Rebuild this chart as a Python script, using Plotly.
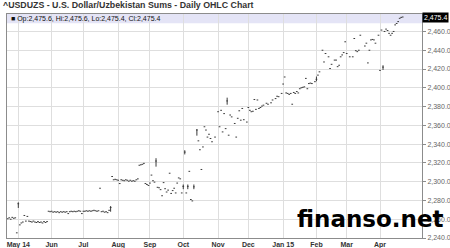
import plotly.graph_objects as go

# ---------------- data ----------------
title_text = "^USDUZS - U.S. Dollar/Uzbekistan Sums - Daily OHLC Chart"
last_ohlc = [2475.6, 2475.6, 2475.4, 2475.4]   # Op, Hi, Lo, Cl

dates = [
    "2014-04-22", "2014-04-23", "2014-04-24", "2014-04-25", "2014-04-28", "2014-04-29", "2014-04-30",
    "2014-05-01", "2014-05-02", "2014-05-05", "2014-05-06", "2014-05-07", "2014-05-08", "2014-05-09",
    "2014-05-12", "2014-05-13", "2014-05-14", "2014-05-15", "2014-05-16", "2014-05-19", "2014-05-20",
    "2014-05-21", "2014-05-22", "2014-05-23", "2014-05-26", "2014-05-27", "2014-05-28", "2014-05-29",
    "2014-05-30",
    "2014-06-02", "2014-06-03", "2014-06-04", "2014-06-05", "2014-06-06", "2014-06-09", "2014-06-10",
    "2014-06-11", "2014-06-12", "2014-06-13", "2014-06-16", "2014-06-17", "2014-06-18", "2014-06-19",
    "2014-06-20", "2014-06-23", "2014-06-24", "2014-06-25", "2014-06-26", "2014-06-27", "2014-06-30",
    "2014-07-01", "2014-07-02", "2014-07-03", "2014-07-04", "2014-07-07", "2014-07-08", "2014-07-09",
    "2014-07-10", "2014-07-11", "2014-07-14", "2014-07-15", "2014-07-16", "2014-07-17", "2014-07-18",
    "2014-07-21", "2014-07-22", "2014-07-23", "2014-07-24", "2014-07-25", "2014-07-28", "2014-07-29",
    "2014-07-30", "2014-07-31",
    "2014-08-01", "2014-08-04", "2014-08-05", "2014-08-06", "2014-08-07", "2014-08-08", "2014-08-11",
    "2014-08-12", "2014-08-13", "2014-08-14", "2014-08-15", "2014-08-18", "2014-08-19", "2014-08-20",
    "2014-08-21", "2014-08-22", "2014-08-25", "2014-08-26", "2014-08-27", "2014-08-28", "2014-08-29",
    "2014-09-01", "2014-09-02", "2014-09-03", "2014-09-04", "2014-09-05", "2014-09-08", "2014-09-09",
    "2014-09-10", "2014-09-11", "2014-09-12", "2014-09-15", "2014-09-16", "2014-09-17", "2014-09-18",
    "2014-09-19", "2014-09-22", "2014-09-23", "2014-09-24", "2014-09-25", "2014-09-26", "2014-09-29",
    "2014-09-30",
    "2014-10-01", "2014-10-02", "2014-10-03", "2014-10-06", "2014-10-07", "2014-10-08", "2014-10-09",
    "2014-10-10", "2014-10-14", "2014-10-15", "2014-10-16", "2014-10-17", "2014-10-20", "2014-10-21",
    "2014-10-22", "2014-10-23", "2014-10-24", "2014-10-27", "2014-10-28", "2014-10-30",
    "2014-11-03", "2014-11-04", "2014-11-05", "2014-11-06", "2014-11-07", "2014-11-10", "2014-11-11",
    "2014-11-12", "2014-11-13", "2014-11-14", "2014-11-18", "2014-11-19", "2014-11-20", "2014-11-21",
    "2014-11-24", "2014-11-25", "2014-11-26", "2014-11-28",
    "2014-12-01", "2014-12-02", "2014-12-03", "2014-12-04", "2014-12-05", "2014-12-08", "2014-12-09",
    "2014-12-10", "2014-12-11", "2014-12-12", "2014-12-15", "2014-12-17", "2014-12-18", "2014-12-22",
    "2014-12-23", "2014-12-25", "2014-12-26", "2014-12-29", "2014-12-31",
    "2015-01-01", "2015-01-02", "2015-01-05", "2015-01-06", "2015-01-07", "2015-01-08", "2015-01-09",
    "2015-01-12", "2015-01-13", "2015-01-14", "2015-01-15", "2015-01-16", "2015-01-19", "2015-01-20",
    "2015-01-21", "2015-01-22", "2015-01-23", "2015-01-26", "2015-01-27", "2015-01-28", "2015-01-30",
    "2015-02-02", "2015-02-03", "2015-02-04", "2015-02-06", "2015-02-09", "2015-02-10", "2015-02-12",
    "2015-02-13", "2015-02-16", "2015-02-18", "2015-02-19", "2015-02-20", "2015-02-23", "2015-02-24",
    "2015-02-25", "2015-02-26", "2015-02-27",
    "2015-03-02", "2015-03-04", "2015-03-06", "2015-03-09", "2015-03-10", "2015-03-11", "2015-03-12",
    "2015-03-13", "2015-03-18", "2015-03-19", "2015-03-20", "2015-03-23", "2015-03-24", "2015-03-25",
    "2015-03-26", "2015-03-27", "2015-03-31",
    "2015-04-01", "2015-04-02", "2015-04-03", "2015-04-06", "2015-04-07", "2015-04-08", "2015-04-09",
    "2015-04-10", "2015-04-13", "2015-04-14", "2015-04-15", "2015-04-16", "2015-04-17", "2015-04-20",
    "2015-04-21", "2015-04-22",
]

closes = [
    2260.5, 2261.5, 2260.0, 2262.0, 2261.0, 2261.5, 2245.5,
    2276.5, 2254.0, 2256.0, 2257.0, 2264.0, 2258.0, 2263.0,
    2258.0, 2257.5, 2257.0, 2258.0, 2257.0, 2256.5, 2257.5,
    2256.5, 2257.0, 2256.0, 2257.5, 2256.5, 2257.5, 2268.5,
    2268.0,
    2268.5, 2267.5, 2268.0, 2267.5, 2268.0, 2267.0, 2268.0,
    2267.5, 2268.0, 2267.5, 2268.0, 2266.0, 2268.0, 2268.5,
    2268.0, 2268.5, 2268.0, 2268.5, 2269.0, 2268.5, 2266.0,
    2268.5, 2268.5, 2269.0, 2268.5, 2269.0, 2268.5, 2269.0,
    2269.5, 2269.0, 2268.5, 2269.0, 2293.0, 2268.0, 2268.5,
    2267.5, 2268.0, 2267.0, 2269.5, 2272.5, 2305.5, 2302.0,
    2302.5, 2302.0,
    2301.5, 2298.0, 2302.0, 2301.5, 2301.0, 2302.0, 2301.5,
    2300.5, 2301.5, 2300.5, 2301.0, 2300.5, 2302.0, 2303.0,
    2317.5, 2318.0, 2318.5, 2319.5, 2298.0, 2297.0, 2296.0,
    2298.5, 2307.0, 2301.0, 2299.5, 2322.0, 2294.0, 2293.5,
    2291.5, 2285.0, 2299.0, 2292.5, 2289.0, 2291.0, 2309.0,
    2287.5, 2290.5, 2293.0, 2288.0, 2298.5, 2304.0, 2303.0,
    2288.0,
    2295.0, 2331.5, 2288.0, 2295.0, 2311.0, 2281.0, 2279.5,
    2294.5, 2355.0, 2343.5, 2334.0, 2313.0, 2337.0, 2358.5,
    2355.0, 2347.5, 2350.5, 2346.0, 2342.5, 2347.5,
    2374.5, 2358.5, 2376.0, 2353.0, 2372.5, 2356.5, 2386.0,
    2349.5, 2371.0, 2369.0, 2362.0, 2347.5, 2367.5, 2375.5,
    2365.5, 2378.0, 2366.0, 2363.5,
    2379.0, 2376.0, 2374.5, 2375.0, 2387.5, 2377.0, 2387.0,
    2378.0, 2379.0, 2380.5, 2381.5, 2383.5, 2382.5, 2384.0,
    2387.0, 2388.5, 2391.0, 2390.5, 2394.0,
    2404.0, 2411.5, 2394.5, 2394.0, 2393.0, 2394.0, 2382.5,
    2395.0, 2394.0, 2396.0, 2394.5, 2399.0, 2400.0, 2400.5,
    2401.0, 2410.0, 2399.0, 2404.5, 2405.0, 2404.5, 2406.5,
    2409.0, 2413.5, 2417.0, 2440.0, 2427.5, 2436.5, 2433.0,
    2420.5, 2425.0, 2429.5, 2429.5, 2422.5, 2424.0, 2433.0,
    2435.0, 2437.5, 2449.0,
    2436.5, 2433.0, 2433.0, 2452.5, 2439.5, 2438.5, 2440.0,
    2456.0, 2444.5, 2447.5, 2426.5, 2440.0, 2451.0, 2451.5,
    2451.0, 2447.5, 2456.0,
    2418.5, 2461.5, 2422.0, 2460.0, 2462.5, 2461.0, 2458.0,
    2456.0, 2458.0, 2460.0, 2467.0, 2468.5, 2470.5, 2474.0,
    2475.0, 2475.4,
]

# days whose high-low range is visibly taller than a dash
range_dates = ["2014-05-01", "2014-07-25", "2014-09-05", "2014-10-01", "2014-10-02",
               "2014-10-06", "2014-10-10", "2014-10-14", "2014-11-11", "2015-02-02",
               "2015-04-03"]
range_lows = [2272.0, 2268.0, 2316.0, 2292.0, 2329.0, 2292.0, 2292.0, 2349.0, 2382.0, 2407.0, 2419.0]
range_highs = [2278.0, 2274.0, 2325.0, 2297.0, 2333.5, 2297.0, 2297.0, 2356.0, 2389.5, 2412.0, 2424.0]

tick_dates = ["2014-05-01", "2014-06-02", "2014-07-01", "2014-08-01", "2014-09-01", "2014-10-01",
              "2014-11-03", "2014-12-01", "2015-01-01", "2015-02-02", "2015-03-02", "2015-04-01"]
tick_labels = ["May 14", "Jun", "Jul", "Aug", "Sep", "Oct", "Nov", "Dec", "Jan 15", "Feb", "Mar", "Apr"]

y_ticks = [2240, 2260, 2280, 2300, 2320, 2340, 2360, 2380, 2400, 2420, 2440, 2460]
y_range = [2240, 2478.6]
x_range = ["2014-04-21 12:45", "2015-05-08 18:00"]

watermark = "finanso.net"

# ---------------- build figure ----------------
rng = {d: (lo, hi) for d, lo, hi in zip(range_dates, range_lows, range_highs)}
err_plus = [rng[d][1] - c if d in rng else 0 for d, c in zip(dates, closes)]
err_minus = [c - rng[d][0] if d in rng else 0 for d, c in zip(dates, closes)]

INK = "#3a3a3a"
FONT = "Liberation Sans, Arial, sans-serif"

fig = go.Figure()
fig.add_trace(go.Scatter(
    x=dates, y=closes, mode="markers",
    marker=dict(symbol="line-ew", size=1.2, color=INK, line=dict(width=1, color=INK)),
    error_y=dict(type="data", symmetric=False, array=err_plus, arrayminus=err_minus,
                 width=0, thickness=1, color=INK),
    showlegend=False, hoverinfo="skip",
))

W, H = 450, 248
ML, MR, MT, MB = 7, 28, 14, 10

fig.update_layout(
    width=W, height=H,
    margin=dict(l=ML, r=MR, t=MT, b=MB, pad=0, autoexpand=False),
    paper_bgcolor="white", plot_bgcolor="white",
    showlegend=False,
    font=dict(family=FONT, size=7, color="#333"),
    xaxis=dict(
        type="date", range=x_range, automargin=False,
        rangebreaks=[dict(bounds=["sat", "mon"])],
        tickmode="array", tickvals=tick_dates, ticktext=tick_labels,
        tickfont=dict(family=FONT, size=7, color="#333", weight="bold"),
        ticks="", ticklen=0,
        showgrid=True, gridcolor="#dedede", gridwidth=1,
        showline=True, linecolor="#8c8c8c", linewidth=1, mirror=True,
        zeroline=False, fixedrange=True,
    ),
    yaxis=dict(
        side="right", range=y_range, automargin=False,
        tickmode="array", tickvals=y_ticks,
        ticktext=[f"{v:,.1f}" for v in y_ticks],
        tickfont=dict(family=FONT, size=7, color="#666"),
        ticks="outside", ticklen=3, tickcolor="#8c8c8c",
        showgrid=True, gridcolor="#dedede", gridwidth=1,
        showline=True, linecolor="#8c8c8c", linewidth=1, mirror=True,
        zeroline=False, fixedrange=True,
    ),
)

plot_h = H - MT - MB
band_bottom = (plot_h - 9.3) / plot_h
fig.add_shape(type="rect", xref="paper", yref="paper", x0=0, x1=1, y0=band_bottom, y1=1,
              fillcolor="#e4e4f6", line=dict(width=0), layer="below")

op, hi, lo, cl = last_ohlc
legend_text = f"■ Op:{op:,.1f}, Hi:{hi:,.1f}, Lo:{lo:,.1f}, Cl:{cl:,.1f}"
fig.add_annotation(xref="paper", yref="paper", x=0.005, y=(plot_h - 5) / plot_h,
                   xanchor="left", yanchor="middle", showarrow=False,
                   text=legend_text, font=dict(family=FONT, size=7, color="#111"))

fig.add_annotation(xref="paper", yref="paper", x=-6 / (W - ML - MR), y=(plot_h + 9) / plot_h,
                   xanchor="left", yanchor="middle", showarrow=False,
                   text=title_text,
                   font=dict(family=FONT, size=8.8, color="#333", weight="bold"))

fig.add_annotation(xref="paper", yref="y", x=1, y=cl, xanchor="left", yanchor="middle",
                   showarrow=False, text=f"{cl:,.1f}", bgcolor="black", borderpad=1,
                   font=dict(family=FONT, size=7, color="white"))

fig.add_annotation(xref="paper", yref="paper", x=(370 - ML) / (W - ML - MR),
                   y=(plot_h - (218.5 - MT)) / plot_h,
                   xanchor="center", yanchor="middle", showarrow=False,
                   text=watermark,
                   font=dict(family="DejaVu Sans", size=23, color="black", weight="bold"))

fig.write_html("out.html", config={"displayModeBar": False})
